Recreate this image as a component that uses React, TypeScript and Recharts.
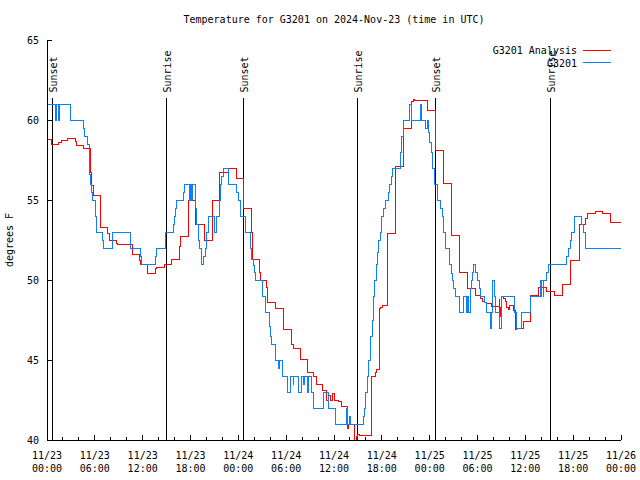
import React from 'react';
import { LineChart, Line, XAxis, YAxis, ReferenceLine, Legend } from 'recharts';

const FONT = '"DejaVu Sans Mono", "Liberation Mono", monospace';

// Observed station temps (G3201): hour since 11/23 00:00 UTC, degrees F
const obsHours = [0, 1.1, 1.25, 1.45, 1.6, 2.97, 4.55, 4.73, 5.14, 5.27, 5.35, 5.43, 5.52, 5.68, 6.06, 6.27, 6.94, 7.06, 8.19, 10.5, 11.75, 11.88, 13.55, 13.76, 14.84, 15.84, 15.97, 16.14, 16.27, 17.1, 17.22, 17.87, 18.0, 18.12, 18.25, 18.65, 18.78, 18.98, 19.19, 19.32, 19.4, 19.6, 19.82, 20.03, 20.23, 21.07, 21.2, 21.58, 21.79, 21.91, 22.11, 22.74, 23.71, 24.0, 24.33, 24.84, 25.55, 25.68, 25.88, 26.09, 26.18, 27.06, 27.47, 27.89, 28.06, 28.22, 28.6, 28.72, 29.01, 29.14, 29.52, 30.19, 30.57, 30.86, 30.98, 31.49, 31.95, 32.12, 32.24, 32.7, 32.83, 33.2, 33.4, 34.66, 35.29, 36.13, 37.59, 37.72, 37.96, 38.06, 39.68, 39.8, 39.98, 40.18, 40.39, 40.52, 40.64, 40.8, 40.93, 41.14, 41.27, 41.43, 41.56, 41.77, 41.98, 42.18, 42.4, 42.81, 42.94, 43.24, 43.36, 44.28, 44.49, 44.78, 45.53, 45.66, 46.79, 46.92, 47.54, 47.67, 47.83, 48.04, 48.26, 48.38, 48.58, 48.96, 49.42, 49.58, 49.71, 50.01, 50.55, 50.68, 50.84, 51.05, 51.18, 51.72, 52.22, 52.56, 52.72, 52.85, 53.15, 53.27, 53.4, 53.56, 53.81, 53.98, 54.23, 54.4, 54.94, 55.07, 55.57, 55.78, 55.94, 56.07, 56.32, 56.82, 57.04, 58.7, 58.91, 59.55, 60.59, 61.84, 61.97, 62.09, 62.22, 62.34, 62.68, 62.88, 65.2, 65.39, 65.69, 65.82, 66.14, 67.07, 67.27, 67.49, 72];
const obsTemps = [61, 60, 61, 60, 61, 60, 59.5, 59, 58.5, 58.2, 56.6, 56, 55.5, 55, 54, 53, 52.5, 52, 53, 52, 51.5, 51, 51.5, 52, 53, 53.5, 54, 54.5, 55, 55.5, 56, 55, 56, 55, 56, 54.5, 53.5, 52.5, 52, 51.5, 51, 51.5, 52, 53, 54, 53, 54, 55, 56, 56.5, 57, 56, 55.5, 55, 54, 53, 52, 51.3, 50.9, 50.5, 50, 49, 48, 47.1, 46.5, 46, 45.5, 45, 44.5, 45, 44, 43, 44, 43.5, 44, 43, 44, 43.5, 44, 43, 44, 43, 42, 43, 42, 41, 42, 41, 41.5, 41, 41.5, 42, 43, 44, 45, 45.5, 46.5, 47.5, 49, 50, 51, 51.7, 52.5, 53, 54, 54.5, 55, 55.5, 56, 56.5, 57, 58, 59, 60, 61, 60, 61, 60, 59.5, 60, 59.2, 58.6, 58, 57, 56, 55, 54.5, 54, 53, 52, 51, 50.4, 50, 49.5, 49, 48, 49, 48, 49, 48, 49.5, 50, 50.5, 51, 50.5, 50, 49.5, 49, 48.6, 48, 47, 48, 50, 49, 48, 47, 49, 48, 47, 48, 49, 50, 49, 50, 49, 50, 50.5, 51, 51.5, 52, 52.5, 53, 54, 53.5, 53, 52, 52];

// Analysis temps (G3201 Analysis)
const anaHours = [0, 0.54, 1.5, 1.79, 2.55, 3.6, 3.73, 4.64, 5.48, 5.61, 5.77, 6.65, 6.74, 7.61, 7.78, 8.66, 8.82, 10.7, 11.58, 11.79, 12.63, 13.64, 13.76, 14.68, 15.01, 15.65, 16.68, 16.77, 17.72, 18.65, 19.72, 20.78, 21.7, 22.74, 23.71, 24.71, 25.68, 25.8, 26.63, 26.8, 27.56, 27.63, 28.69, 29.64, 30.7, 30.9, 31.74, 32.7, 33.49, 33.83, 34.58, 35.08, 35.37, 35.62, 35.87, 36.04, 36.54, 36.97, 37.67, 37.84, 38.63, 38.85, 39.01, 39.26, 40.73, 41.23, 41.36, 41.65, 41.86, 42.11, 42.71, 43.69, 44.69, 45.66, 45.91, 46.16, 47.7, 48.67, 49.71, 50.72, 51.72, 52.75, 53.69, 54.38, 54.65, 54.94, 55.15, 55.78, 56.73, 56.82, 56.9, 57.04, 57.24, 57.45, 57.66, 57.87, 57.99, 58.49, 58.71, 58.83, 59.75, 60.67, 61.63, 62.68, 63.72, 64.69, 65.69, 66.76, 67.57, 67.82, 68.74, 69.7, 70.7, 72];
const anaTemps = [58.8, 58.45, 58.6, 58.75, 58.85, 58.65, 58.4, 58.2, 56.7, 55.9, 55.3, 54.3, 53.3, 52.9, 52.5, 52.3, 52.2, 51.6, 51.25, 50.95, 50.4, 50.7, 50.8, 50.95, 51.0, 51.3, 52.1, 52.75, 54.95, 53.5, 52.45, 55.0, 56.7, 57.0, 56.35, 54.5, 53.0, 51.3, 50.5, 50.0, 49.55, 48.6, 48.2, 46.9, 46.0, 45.7, 45.04, 44.2, 43.96, 43.5, 43.1, 42.5, 42.8, 42.5, 42.9, 42.5, 42.4, 42.1, 40.7, 41.0, 40.0, 40.25, 40.35, 40.3, 44.0, 44.2, 44.4, 48.2, 48.3, 48.4, 52.9, 57.1, 59.5, 61.15, 61.3, 61.2, 60.6, 58.1, 56.04, 52.8, 50.45, 49.5, 49.06, 48.85, 48.65, 48.6, 48.54, 48.33, 48.8, 47.7, 48.3, 48.96, 48.85, 48.65, 48.3, 48.17, 48.4, 48.1, 46.9, 47.0, 47.4, 49.06, 49.55, 49.3, 49.06, 49.7, 51.25, 53.5, 53.85, 54.17, 54.27, 54.17, 53.6, 53.6];

const sunHours = [0.65, 15.0, 24.71, 39.0, 48.71, 63.1];
const sunLabels = ['Sunset', 'Sunrise', 'Sunset', 'Sunrise', 'Sunset', 'Sunrise'];

const xTicks = [0, 2, 4, 6, 8, 10, 12, 14, 16, 18, 20, 22, 24, 26, 28, 30, 32, 34, 36, 38, 40, 42, 44, 46, 48, 50, 52, 54, 56, 58, 60, 62, 64, 66, 68, 70, 72];
const yTicks = [40, 45, 50, 55, 60, 65];

const obsData = obsHours.map((h, i) => ({ h, t: obsTemps[i] }));
const anaData = anaHours.map((h, i) => ({ h, t: anaTemps[i] }));

const pad = (n: number) => (n < 10 ? '0' + n : '' + n);

const XTickBottom = (props: any) => {
  const { x, y, payload } = props;
  const v = payload.value;
  const major = v % 6 === 0;
  const day = 23 + Math.floor(v / 24);
  const hr = v % 24;
  return (
    <g>
      <line x1={x} y1={y} x2={x} y2={y - (major ? 5 : 3)} stroke="#000" shapeRendering="crispEdges" />
      {major && (
        <text x={x} y={y + 19} textAnchor="middle" fontSize={10} fontFamily={FONT} fill="#000">
          {`11/${day}`}
        </text>
      )}
      {major && (
        <text x={x} y={y + 32} textAnchor="middle" fontSize={10} fontFamily={FONT} fill="#000">
          {`${pad(hr)}:00`}
        </text>
      )}
    </g>
  );
};

const XTickTop = (props: any) => {
  const { x, y, payload } = props;
  const major = payload.value % 6 === 0;
  return <line x1={x} y1={y} x2={x} y2={y + (major ? 5 : 3)} stroke="#000" shapeRendering="crispEdges" />;
};

const YTickLeft = (props: any) => {
  const { x, y, payload } = props;
  return (
    <g>
      <line x1={x} y1={y} x2={x + 5} y2={y} stroke="#000" shapeRendering="crispEdges" />
      <text x={x - 8} y={y + 4} textAnchor="end" fontSize={10} fontFamily={FONT} fill="#000">
        {payload.value}
      </text>
    </g>
  );
};

const YTickRight = (props: any) => {
  const { x, y } = props;
  return <line x1={x} y1={y} x2={x - 5} y2={y} stroke="#000" shapeRendering="crispEdges" />;
};

const SunLabel = (props: any) => {
  const { viewBox, text } = props;
  const px = viewBox.x + 4.5;
  const py = viewBox.y - 5;
  return (
    <text x={px} y={py} transform={`rotate(-90 ${px} ${py})`} fontSize={10} fontFamily={FONT} fill="#000" textAnchor="start">
      {text}
    </text>
  );
};

const YTitle = () => (
  <text x={13} y={240} transform="rotate(-90 13 240)" textAnchor="middle" fontSize={10} fontFamily={FONT} fill="#000">
    degrees F
  </text>
);

const LegendBox = () => (
  <svg width={150} height={30} style={{ display: 'block' }}>
    <text x={107} y={12} textAnchor="end" fontSize={10} fontFamily={FONT} fill="#000">G3201 Analysis</text>
    <line x1={113} y1={8} x2={141} y2={8} stroke="#ff0000" shapeRendering="crispEdges" />
    <text x={107} y={25} textAnchor="end" fontSize={10} fontFamily={FONT} fill="#000">G3201</text>
    <line x1={113} y1={20.5} x2={141} y2={20.5} stroke="#0a80ff" shapeRendering="crispEdges" />
  </svg>
);

export default function App() {
  return (
    <div style={{ position: 'absolute', left: 0, top: 0, width: 640, height: 480, background: '#fff' }}>
      <div
        style={{
          position: 'absolute',
          top: 15,
          left: 334,
          transform: 'translateX(-50%)',
          whiteSpace: 'nowrap',
          fontFamily: FONT,
          fontSize: 10,
          lineHeight: '10px',
          color: '#000',
          zIndex: 2,
        }}
      >
        Temperature for G3201 on 2024-Nov-23 (time in UTC)
      </div>
      <LineChart width={640} height={480} margin={{ top: 40, right: 19, bottom: 0, left: 0 }}>
        <XAxis
          xAxisId="b"
          dataKey="h"
          type="number"
          domain={[0, 72]}
          ticks={xTicks}
          interval={0}
          height={40}
          tickSize={0}
          tickMargin={0}
          tickLine={false}
          axisLine={{ stroke: '#000', shapeRendering: 'crispEdges' }}
          tick={(p: any) => <XTickBottom {...p} />}
          allowDataOverflow
        />
        <XAxis
          xAxisId="t"
          orientation="top"
          dataKey="h"
          type="number"
          domain={[0, 72]}
          ticks={xTicks}
          interval={0}
          height={0}
          tickSize={0}
          tickMargin={0}
          tickLine={false}
          axisLine={{ stroke: '#000', shapeRendering: 'crispEdges' }}
          tick={(p: any) => <XTickTop {...p} />}
          allowDataOverflow
        />
        <YAxis
          yAxisId="l"
          type="number"
          domain={[40, 65]}
          ticks={yTicks}
          interval={0}
          width={47}
          tickSize={0}
          tickMargin={0}
          tickLine={false}
          axisLine={{ stroke: '#000', shapeRendering: 'crispEdges' }}
          tick={(p: any) => <YTickLeft {...p} />}
          label={<YTitle />}
          allowDataOverflow
        />
        <YAxis
          yAxisId="r"
          orientation="right"
          type="number"
          domain={[40, 65]}
          ticks={yTicks}
          interval={0}
          width={0}
          tickSize={0}
          tickMargin={0}
          tickLine={false}
          axisLine={{ stroke: '#000', shapeRendering: 'crispEdges' }}
          tick={(p: any) => <YTickRight {...p} />}
          allowDataOverflow
        />
        {sunHours.map((h, i) => (
          <ReferenceLine
            key={'sun' + i}
            xAxisId="b"
            yAxisId="l"
            segment={[{ x: h, y: 40 }, { x: h, y: 61.4 }]}
            stroke="#000"
            strokeWidth={1}
            shapeRendering="crispEdges"
            label={<SunLabel text={sunLabels[i]} />}
          />
        ))}
        <Line
          xAxisId="b"
          yAxisId="l"
          data={anaData}
          dataKey="t"
          type="stepAfter"
          stroke="#ff0000"
          strokeWidth={1}
          shapeRendering="crispEdges"
          dot={false}
          isAnimationActive={false}
          name="G3201 Analysis"
        />
        <Line
          xAxisId="b"
          yAxisId="l"
          data={obsData}
          dataKey="t"
          type="stepAfter"
          stroke="#0a80ff"
          strokeWidth={1}
          shapeRendering="crispEdges"
          dot={false}
          isAnimationActive={false}
          name="G3201"
        />
        <Legend
          layout="horizontal"
          verticalAlign="middle"
          align="center"
          content={() => <LegendBox />}
          wrapperStyle={{ position: 'absolute', left: 470, top: 42, width: 150, height: 30 }}
        />
      </LineChart>
    </div>
  );
}
